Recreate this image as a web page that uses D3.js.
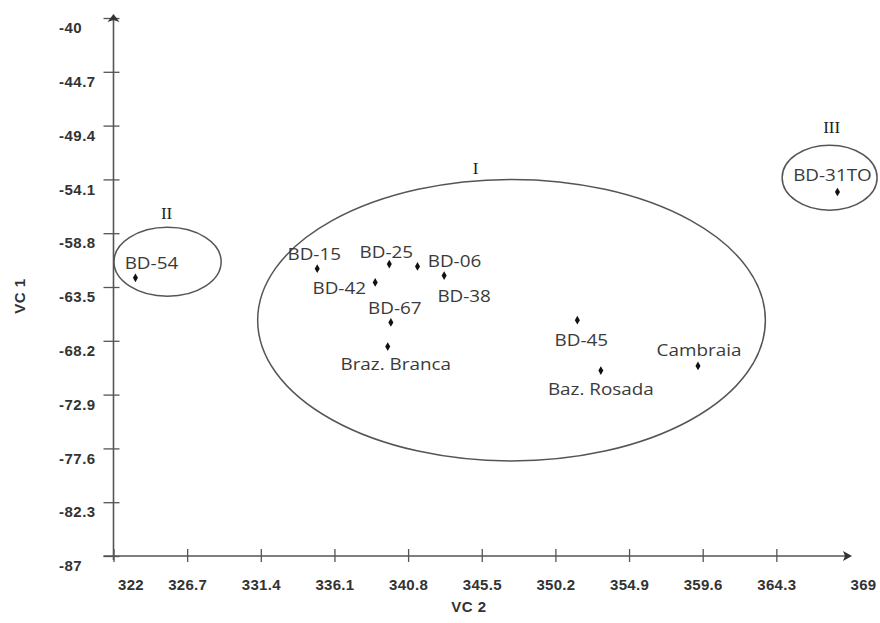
<!DOCTYPE html>
<html>
<head>
<meta charset="utf-8">
<script src="https://cdn.jsdelivr.net/npm/d3@7"></script>
<style>
  body { margin: 0; background: #fff; }
  svg { display: block; }
</style>
</head>
<body>
<svg id="area" width="880" height="623"></svg>
<script>
// cultivar scores on the two canonical variables
const names = ['BD-54', 'BD-15', 'BD-25', 'BD-06', 'BD-38', 'BD-42', 'BD-67',
  'Braz. Branca', 'BD-45', 'Baz. Rosada', 'Cambraia', 'BD-31TO'];
const vc2 = [323.4, 335.0, 339.6, 341.4, 343.1, 338.7, 339.7, 339.5, 351.6, 353.1, 359.3, 368.2];
const vc1 = [-62.7, -61.9, -61.5, -61.7, -62.5, -63.1, -66.6, -68.7, -66.4, -70.8, -70.4, -55.2];

// groups (ellipses in data units)
const groupNames = ['I', 'II', 'III'];
const groupCx = [347.4, 325.45, 367.7];
const groupCy = [-66.4, -61.3, -53.95];
const groupRx = [16.2, 3.42, 3.03];
const groupRy = [12.3, 3.01, 2.84];

const xTicks = [322, 326.7, 331.4, 336.1, 340.8, 345.5, 350.2, 354.9, 359.6, 364.3, 369];
const yTicks = [-40, -44.7, -49.4, -54.1, -58.8, -63.5, -68.2, -72.9, -77.6, -82.3, -87];

// label nudges in pixels, same order as names
const labelDx = [16, -3, -3, 37, 20, -36, 4, 8, 4, 0, 1, -5];
const labelDy = [-15, -15, -13, -6, 20, 5, -15, 17, 19, 18, -16, -17];
const groupLabelDx = [-36, -1, 2];
const groupLabelDy = [-11, -14, -18];

const svg = d3.select('#area');
const axisColor = '#555';

const x = d3.scaleLinear([322, 369], [113.5, 850]);
const y = d3.scaleLinear([-87, -40], [556, 18]);

// y axis
const gy = svg.append('g')
  .attr('transform', `translate(${x(322)},0)`)
  .call(d3.axisLeft(y).tickValues(yTicks).tickFormat((d) => d).tickSizeOuter(0));
gy.select('.domain').remove();
gy.selectAll('.tick line')
  .attr('x1', -10)
  .attr('x2', 6)
  .attr('stroke', axisColor)
  .attr('stroke-width', 1.3);
gy.selectAll('.tick text')
  .attr('x', 59 - x(322))
  .attr('y', 10)
  .attr('text-anchor', 'start')
  .style('font', 'bold 15px "Liberation Sans", Arial, sans-serif')
  .style('letter-spacing', '0.5px')
  .attr('fill', '#333');

// x axis
const gx = svg.append('g')
  .attr('transform', `translate(0,${y(-87)})`)
  .call(d3.axisBottom(x).tickValues(xTicks).tickFormat((d) => d).tickSizeOuter(0));
gx.select('.domain').remove();
gx.selectAll('.tick line')
  .attr('y1', -7)
  .attr('y2', 6)
  .attr('stroke', axisColor)
  .attr('stroke-width', 1.3)
  .attr('display', (d) => (d === 369 ? 'none' : null));
gx.selectAll('.tick text')
  .attr('y', 29)
  .attr('dy', '0.35em')
  .attr('text-anchor', (d, i) => (i === 0 || i === xTicks.length - 1 ? 'start' : 'middle'))
  .attr('dx', (d, i) => (i === 0 ? 4 : 0))
  .style('font', 'bold 15px "Liberation Sans", Arial, sans-serif')
  .style('letter-spacing', '0.3px')
  .attr('fill', '#333');

// axis lines with arrow heads
svg.append('line')
  .attr('x1', x(322) - 10).attr('x2', x(369) - 4)
  .attr('y1', y(-87)).attr('y2', y(-87))
  .attr('stroke', axisColor).attr('stroke-width', 1.6);
svg.append('line')
  .attr('x1', x(322)).attr('x2', x(322))
  .attr('y1', y(-87) + 4).attr('y2', y(-40))
  .attr('stroke', axisColor).attr('stroke-width', 1.6);
svg.append('path')
  .attr('d', `M${x(369) + 2},${y(-87)} l-9,-5 l2,5 l-2,5 z`)
  .attr('fill', '#333');
svg.append('path')
  .attr('d', `M${x(322)},${y(-40) - 4} l-6,8 l6,-2 l6,2 z`)
  .attr('fill', '#333');

// axis titles
svg.append('text')
  .attr('x', 469).attr('y', 606)
  .attr('text-anchor', 'middle').attr('dominant-baseline', 'central')
  .style('font', 'bold 15px "Liberation Sans", Arial, sans-serif')
  .style('letter-spacing', '0.5px')
  .attr('fill', '#333')
  .text('VC 2');
svg.append('text')
  .attr('transform', 'translate(19,296) rotate(-90)')
  .attr('text-anchor', 'middle').attr('dominant-baseline', 'central')
  .style('font', 'bold 15px "Liberation Sans", Arial, sans-serif')
  .style('letter-spacing', '0.5px')
  .attr('fill', '#333')
  .text('VC 1');

// group ellipses
svg.selectAll('ellipse.group')
  .data(groupNames)
  .join('ellipse')
  .attr('class', 'group')
  .attr('cx', (d, i) => x(groupCx[i]))
  .attr('cy', (d, i) => y(groupCy[i]))
  .attr('rx', (d, i) => x(groupCx[i] + groupRx[i]) - x(groupCx[i]))
  .attr('ry', (d, i) => y(groupCy[i]) - y(groupCy[i] + groupRy[i]))
  .attr('fill', 'none')
  .attr('stroke', '#555')
  .attr('stroke-width', 1.5);

svg.selectAll('text.group')
  .data(groupNames)
  .join('text')
  .attr('class', 'group')
  .attr('x', (d, i) => x(groupCx[i]) + groupLabelDx[i])
  .attr('y', (d, i) => y(groupCy[i] + groupRy[i]) + groupLabelDy[i])
  .attr('text-anchor', 'middle').attr('dominant-baseline', 'central')
  .style('font', '17px "Liberation Serif", "Times New Roman", serif')
  .attr('fill', '#222')
  .text((d) => d);

// points
const symbol = d3.symbol().type(d3.symbolDiamond).size(22);
svg.selectAll('path.pt')
  .data(names)
  .join('path')
  .attr('class', 'pt')
  .attr('d', symbol)
  .attr('transform', (d, i) => `translate(${x(vc2[i])},${y(vc1[i])})`)
  .attr('fill', '#111');

svg.selectAll('text.pt')
  .data(names)
  .join('text')
  .attr('class', 'pt')
  .attr('transform', (d, i) => `translate(${x(vc2[i]) + labelDx[i]},${y(vc1[i]) + labelDy[i]}) scale(1.18,1)`)
  .attr('text-anchor', 'middle').attr('dominant-baseline', 'central')
  .style('font', '16px "Open Sans", "Noto Sans", sans-serif')
  .attr('fill', '#3a3a3a')
  .text((d) => d);
</script>
</body>
</html>
